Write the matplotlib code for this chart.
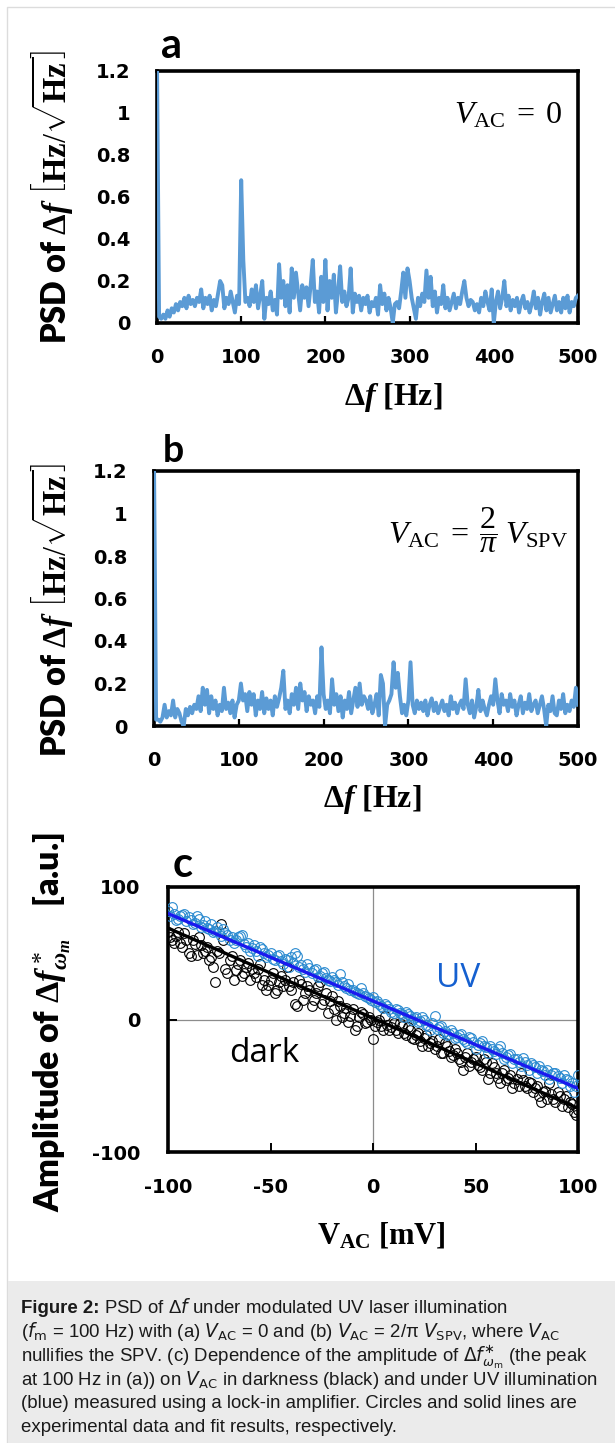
import matplotlib
matplotlib.use('Agg')
import matplotlib.pyplot as plt
import numpy as np
from matplotlib.patches import Rectangle
from matplotlib.font_manager import FontProperties

plt.rcParams['font.family'] = ['Lato', 'DejaVu Sans']
plt.rcParams['axes.unicode_minus'] = False
plt.rcParams['mathtext.fontset'] = 'custom'
plt.rcParams['mathtext.rm'] = 'Liberation Serif'
plt.rcParams['mathtext.it'] = 'Liberation Serif:italic'
plt.rcParams['mathtext.bf'] = 'Liberation Serif:bold'
plt.rcParams['mathtext.bfit'] = 'Liberation Serif:italic:bold'

# ---------------- data ----------------
freq = np.linspace(0, 500, 201)  # Hz, 2.5 Hz spacing

psd_a = [1.25, 0.03, 0.02, 0.04, 0.02, 0.06, 0.03, 0.07, 0.05, 0.09, 0.06, 0.10, 0.08, 0.12, 0.07, 0.13, 0.09, 0.11, 0.08, 0.12,
         0.10, 0.16, 0.07, 0.12, 0.09, 0.13, 0.06, 0.11, 0.08, 0.14, 0.20, 0.18, 0.07, 0.12, 0.09, 0.15, 0.10, 0.05, 0.13, 0.09,
         0.68, 0.30, 0.10, 0.12, 0.08, 0.16, 0.10, 0.18, 0.07, 0.13, 0.20, 0.02, 0.12, 0.09, 0.15, 0.06, 0.11, 0.04, 0.28, 0.12,
         0.20, 0.08, 0.18, 0.05, 0.26, 0.12, 0.24, 0.15, 0.06, 0.18, 0.12, 0.17, 0.08, 0.18, 0.30, 0.10, 0.15, 0.05, 0.22, 0.10,
         0.30, 0.06, 0.20, 0.12, 0.23, 0.05, 0.15, 0.27, 0.10, 0.15, 0.08, 0.12, 0.26, 0.05, 0.14, 0.10, 0.13, 0.06, 0.12, 0.09,
         0.13, 0.05, 0.10, 0.08, 0.12, 0.04, 0.18, 0.09, 0.14, 0.06, 0.12, 0.07, 0.00, 0.09, 0.10, 0.07, 0.15, 0.24, 0.12, 0.26,
         0.20, 0.12, 0.07, 0.02, 0.12, 0.08, 0.14, 0.10, 0.25, 0.12, 0.22, 0.08, 0.15, 0.05, 0.12, 0.09, 0.18, 0.07, 0.12, 0.06,
         0.10, 0.14, 0.07, 0.12, 0.09, 0.15, 0.20, 0.12, 0.08, 0.11, 0.10, 0.06, 0.09, 0.05, 0.12, 0.08, 0.15, 0.10, 0.06, 0.16,
         0.00, 0.10, 0.15, 0.07, 0.12, 0.20, 0.08, 0.13, 0.06, 0.11, 0.08, 0.12, 0.05, 0.10, 0.13, 0.07, 0.10, 0.05, 0.09, 0.15,
         0.07, 0.12, 0.04, 0.10, 0.14, 0.06, 0.12, 0.05, 0.09, 0.13, 0.06, 0.10, 0.05, 0.12, 0.07, 0.13, 0.05, 0.10, 0.08, 0.12, 0.13]

psd_b = [1.25, 0.03, 0.03, 0.02, 0.04, 0.10, 0.04, 0.07, 0.05, 0.12, 0.04, 0.08, 0.06, 0.02, 0.00, 0.08, 0.05, 0.09, 0.06, 0.10,
         0.08, 0.14, 0.07, 0.18, 0.10, 0.17, 0.06, 0.14, 0.08, 0.12, 0.05, 0.10, 0.07, 0.18, 0.08, 0.11, 0.06, 0.12, 0.04, 0.10,
         0.12, 0.20, 0.12, 0.15, 0.07, 0.16, 0.10, 0.15, 0.05, 0.12, 0.08, 0.16, 0.06, 0.13, 0.08, 0.12, 0.05, 0.14, 0.09, 0.13,
         0.18, 0.26, 0.08, 0.12, 0.06, 0.15, 0.10, 0.18, 0.08, 0.20, 0.12, 0.16, 0.07, 0.14, 0.10, 0.12, 0.06, 0.14, 0.09, 0.37,
         0.15, 0.08, 0.12, 0.06, 0.22, 0.10, 0.15, 0.07, 0.14, 0.04, 0.12, 0.08, 0.16, 0.06, 0.12, 0.18, 0.09, 0.20, 0.10, 0.14,
         0.12, 0.08, 0.14, 0.06, 0.10, 0.15, 0.05, 0.24, 0.20, 0.00, 0.10, 0.12, 0.15, 0.30, 0.18, 0.25, 0.14, 0.06, 0.10, 0.05,
         0.12, 0.30, 0.10, 0.06, 0.12, 0.08, 0.11, 0.07, 0.12, 0.05, 0.10, 0.13, 0.07, 0.11, 0.06, 0.09, 0.12, 0.07, 0.10, 0.05,
         0.14, 0.08, 0.11, 0.06, 0.10, 0.12, 0.08, 0.22, 0.10, 0.06, 0.12, 0.04, 0.09, 0.17, 0.07, 0.12, 0.08, 0.05, 0.10, 0.14,
         0.10, 0.22, 0.12, 0.06, 0.15, 0.10, 0.12, 0.07, 0.15, 0.09, 0.12, 0.05, 0.10, 0.14, 0.06, 0.11, 0.08, 0.15, 0.07, 0.10,
         0.12, 0.06, 0.10, 0.14, 0.08, 0.00, 0.10, 0.07, 0.14, 0.06, 0.05, 0.12, 0.08, 0.15, 0.06, 0.10, 0.07, 0.12, 0.09, 0.18, 0.10]

vac_even = np.arange(-100, 101, 2)  # mV
vac_odd = np.arange(-99, 100, 2)    # mV

amp_dark_even = [66, 60, 63, 58, 65, 50, 60, 49, 56, 52, 45, 40, 52, 72, 38, 45, 30, 42, 33, 40,
                 30, 35, 38, 26, 22, 30, 20, 28, 25, 40, 22, 12, 30, 15, 25, 10, 20, 28, 15, 5,
                 18, 0, 10, 5, -2, 8, -5, 6, -3, 2, -15, -2, -5, 3, -8, -3, -10, -5, -12, -8,
                 -15, -10, -20, -12, -18, -22, -15, -25, -20, -28, -22, -30, -38, -25, -32, -28, -36, -30, -45, -33,
                 -40, -48, -38, -44, -52, -45, -40, -50, -47, -55, -50, -62, -54, -48, -60, -55, -65, -58, -62, -70, -68]
amp_dark_odd = [62, 58, 66, 55, 60, 48, 57, 62, 50, 55, 47, 28, 50, 60, 35, 48, 37, 45, 35, 43,
                38, 32, 42, 30, 26, 35, 22, 33, 30, 25, 28, 10, 27, 20, 22, 15, 25, 12, 20, 14,
                8, 14, 2, 9, 3, -8, 2, 4, -2, 0, -5, 0, -8, -4, -6, -8, -3, -10, -6, -14,
                -12, -16, -14, -20, -16, -20, -25, -18, -24, -27, -25, -32, -28, -35, -30, -34, -38, -32, -40, -36,
                -44, -40, -46, -42, -48, -50, -46, -52, -48, -52, -58, -55, -60, -56, -62, -58, -60, -66, -64, -72]

amp_uv_even = [82, 85, 75, 78, 80, 77, 72, 78, 70, 74, 68, 66, 70, 63, 65, 60, 58, 62, 64, 55,
               52, 56, 48, 53, 47, 50, 45, 49, 42, 45, 47, 50, 40, 38, 42, 35, 38, 33, 36, 30,
               32, 28, 34, 25, 27, 22, 20, 24, 18, 16, 17, 14, 10, 12, 8, 5, 7, 4, 6, 3,
               1, -2, 2, -4, -8, 3, -6, -10, -12, -8, -14, -12, -15, -18, -14, -22, -18, -20, -25, -22,
               -26, -20, -30, -27, -33, -30, -35, -32, -38, -34, -40, -38, -42, -45, -40, -43, -48, -45, -50, -55, -42]
amp_uv_odd = [78, 80, 76, 79, 74, 75, 73, 76, 71, 69, 72, 67, 66, 68, 64, 62, 60, 63, 57, 58,
              54, 52, 55, 50, 49, 46, 48, 44, 46, 40, 43, 48, 41, 36, 39, 37, 32, 35, 31, 29,
              30, 26, 28, 24, 22, 21, 19, 20, 17, 15, 13, 12, 9, 10, 6, 8, 5, 2, 4, 0,
              2, -1, 0, -5, -3, -7, -5, -9, -11, -10, -13, -11, -16, -13, -17, -19, -16, -21, -20, -24,
              -22, -25, -28, -26, -30, -32, -29, -34, -33, -36, -35, -39, -38, -42, -40, -44, -42, -46, -48, -50]

fit_x = [-100, 100]
fit_dark = [69, -67]
fit_uv = [80, -52]

psd_yticks = [0, 0.2, 0.4, 0.6, 0.8, 1.0, 1.2]
psd_yticklabels = ['0', '0.2', '0.4', '0.6', '0.8', '1', '1.2']
psd_xticks = [0, 100, 200, 300, 400, 500]
c_xticks = [-100, -50, 0, 50, 100]
c_yticks = [-100, 0, 100]

# ---------------- figure ----------------
W, H = 615, 1443
fig = plt.figure(figsize=(W / 100, H / 100), dpi=100)
fig.patch.set_facecolor('white')


def fx(px):
    return px / W


def fy(py):
    return 1 - py / H


# frame and caption box
fig.patches.append(Rectangle((fx(7), 0), 1.0, fy(7), transform=fig.transFigure,
                             facecolor='none', edgecolor='#dcdcdc', lw=1.0, zorder=0))
fig.patches.append(Rectangle((fx(7.5), 0), 1.0, fy(1281), transform=fig.transFigure,
                             facecolor='#ebebeb', edgecolor='none', zorder=0))

tick_fp = FontProperties(family='DejaVu Sans', weight='bold', size=14)
blue_line = '#5b9bd5'


def style_psd(ax):
    ax.set_xlim(0, 500)
    ax.set_ylim(0, 1.2)
    ax.set_yticks(psd_yticks)
    ax.set_yticklabels(psd_yticklabels)
    ax.set_xticks(psd_xticks)
    for s in ax.spines.values():
        s.set_linewidth(2.6)
        s.set_color('black')
    ax.tick_params(axis='x', direction='in', length=5, width=1.6, pad=18)
    ax.tick_params(axis='y', length=0, pad=19)
    for lab in ax.get_xticklabels() + ax.get_yticklabels():
        lab.set_fontproperties(tick_fp)


ylab_psd = r"PSD of $\mathbf{\Delta}\mathbfit{f}\ \left[\mathbf{Hz}/\sqrt{\mathbf{Hz}}\right]$"
xlab_psd = r"$\mathbf{\Delta}\mathbfit{f}\ \mathbf{[Hz]}$"

# ----- panel a -----
axa = fig.add_axes([fx(157), fy(323), fx(578 - 157), (323 - 71) / H])
axa.plot(freq, psd_a, color=blue_line, lw=2.8, solid_joinstyle='round', zorder=3)
style_psd(axa)
axa.text(482, 0.952, r"$\mathit{V}_{\mathrm{AC}}\;=\;0$", ha='right', va='baseline', fontsize=23)
fig.text(fx(52), fy(197), ylab_psd, rotation=90, ha='center', va='center',
         fontsize=23.5, fontweight='heavy', family='Lato')
fig.text(fx(393), fy(398), xlab_psd, ha='center', va='center', fontsize=23)
fig.text(fx(161), fy(58), 'a', fontsize=30, fontweight='bold', family='Lato', va='baseline')

# ----- panel b -----
axb = fig.add_axes([fx(154), fy(726), fx(578 - 154), (726 - 471) / H])
axb.plot(freq, psd_b, color=blue_line, lw=2.8, solid_joinstyle='round', zorder=3)
style_psd(axb)
axb.text(489, 0.861, r"$\mathit{V}_{\mathrm{AC}}\;=\;\dfrac{2}{\pi}\;\mathit{V}_{\mathrm{SPV}}$",
         ha='right', va='baseline', fontsize=23)
fig.text(fx(52), fy(610), ylab_psd, rotation=90, ha='center', va='center',
         fontsize=23.5, fontweight='heavy', family='Lato')
fig.text(fx(372), fy(800), xlab_psd, ha='center', va='center', fontsize=23)
fig.text(fx(163), fy(462), 'b', fontsize=27, fontweight='bold', family='Lato', va='baseline')

# ----- panel c -----
axc = fig.add_axes([fx(168), fy(1152), fx(578 - 168), (1152 - 887) / H])
axc.axhline(0, color='#8c8c8c', lw=0.9, zorder=1)
axc.axvline(0, color='#8c8c8c', lw=0.9, zorder=1)
mk = dict(linestyle='none', marker='o', mfc='none', ms=7.0, mew=0.8)
axc.plot(vac_even, amp_dark_even, mec='black', zorder=2, **mk)
axc.plot(vac_odd, amp_dark_odd, mec='black', zorder=2, **mk)
axc.plot(vac_even, amp_uv_even, mec='#2a8ad0', zorder=3, **mk)
axc.plot(vac_odd, amp_uv_odd, mec='#2a8ad0', zorder=3, **mk)
axc.plot(fit_x, fit_dark, color='black', lw=2.4, zorder=4)
axc.plot(fit_x, fit_uv, color='#1a1aee', lw=2.4, zorder=5)
axc.set_xlim(-100, 100)
axc.set_ylim(-100, 100)
axc.set_xticks(c_xticks)
axc.set_yticks(c_yticks)
for s in axc.spines.values():
    s.set_linewidth(2.6)
    s.set_color('black')
axc.tick_params(axis='x', direction='in', length=6.5, width=1.4, pad=19)
axc.tick_params(axis='y', direction='in', length=6.5, width=1.4, pad=20)
for lab in axc.get_xticklabels() + axc.get_yticklabels():
    lab.set_fontproperties(tick_fp)
axc.text(-70.2, -32, 'dark', fontsize=24, family='Open Sans', color='black', va='baseline')
axc.text(30.7, 24.5, 'UV', fontsize=24, family='Open Sans', color='#1560d0', va='baseline')
fig.text(fx(52), fy(1022),
         r"Amplitude of $\mathbf{\Delta}\mathbfit{f}^{\,*}_{\mathbfit{\omega}_{\mathbfit{m}}}$    [a.u.]",
         rotation=90, ha='center', va='center', fontsize=24.5, fontweight='heavy', family='Lato')
fig.text(fx(381), fy(1235), r"$\mathbf{V_{AC}}\ \mathbf{[mV]}$", ha='center', va='center', fontsize=22)
fig.text(fx(173), fy(877), 'c', fontsize=30, fontweight='bold', family='Lato', va='baseline')

# ----- caption -----
cap_font = dict(family='Liberation Sans', size=13.4, color='#1a1a1a')
x0 = fx(21)
baselines = [1313, 1337, 1361, 1385, 1408, 1432]
cap_lines = [
    r"PSD of Δ$f$ under modulated UV laser illumination",
    r"($f_\mathrm{m}$ = 100 Hz) with (a) $V_\mathrm{AC}$ = 0 and (b) $V_\mathrm{AC}$ = 2/π $V_\mathrm{SPV}$, where $V_\mathrm{AC}$",
    r"nullifies the SPV. (c) Dependence of the amplitude of $\Delta f^{\ast}_{\omega_\mathrm{m}}$ (the peak",
    r"at 100 Hz in (a)) on $V_\mathrm{AC}$ in darkness (black) and under UV illumination",
    r"(blue) measured using a lock-in amplifier. Circles and solid lines are",
    r"experimental data and fit results, respectively.",
]
renderer = fig.canvas.get_renderer()
t0 = fig.text(x0, fy(baselines[0]), "Figure 2:", fontweight='bold', va='baseline', **cap_font)
w0 = t0.get_window_extent(renderer).width
fig.text(x0 + (w0 + 4) / W, fy(baselines[0]), cap_lines[0], va='baseline',
         math_fontfamily='dejavusans', **cap_font)
for line, b in zip(cap_lines[1:], baselines[1:]):
    fig.text(x0, fy(b), line, va='baseline', math_fontfamily='dejavusans', **cap_font)

fig.savefig('out.png', dpi=100, facecolor='white')
